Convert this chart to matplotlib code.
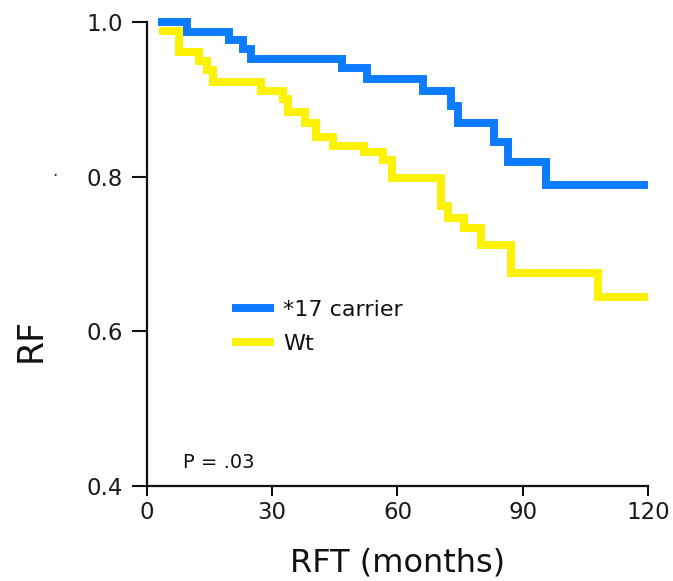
import matplotlib
matplotlib.use("Agg")
import matplotlib.pyplot as plt

# ---- data ----
blue_label = "*17 carrier"
blue_months = [2.6, 9.7, 19.7, 22.9, 24.9, 46.7, 52.8, 66.0, 72.8, 74.4, 83.2, 86.4, 95.6, 120.0]
blue_surv = [1.000, 0.987, 0.977, 0.965, 0.952, 0.941, 0.926, 0.911, 0.892, 0.870, 0.845, 0.819, 0.789, 0.789]

yellow_label = "Wt"
yellow_months = [2.9, 7.7, 12.5, 14.3, 15.8, 27.3, 32.5, 33.8, 37.8, 40.5, 44.5, 52.0, 56.5, 58.7,
                 70.4, 72.0, 76.0, 80.0, 87.2, 108.0, 120.0]
yellow_surv = [0.988, 0.961, 0.949, 0.938, 0.923, 0.911, 0.900, 0.883, 0.870, 0.851, 0.840, 0.832,
               0.822, 0.798, 0.762, 0.747, 0.734, 0.712, 0.676, 0.644, 0.644]

x_ticks = [0, 30, 60, 90, 120]
x_ticklabels = ["0", "30", "60", "90", "120"]
y_ticks = [0.4, 0.6, 0.8, 1.0]
y_ticklabels = ["0.4", "0.6", "0.8", "1.0"]
x_label = "RFT (months)"
y_label = "RF"
p_text = "P = .03"

BLUE = "#0b7bff"
YELLOW = "#fff200"

plt.rcParams["font.family"] = ["DejaVu Sans"]

fig = plt.figure(figsize=(6.73, 5.81), dpi=100)
ax = fig.add_axes([0.2184, 0.1635, 0.7444, 0.7986])

ly, = ax.plot(yellow_months, yellow_surv, drawstyle="steps-post", color=YELLOW, lw=5.7,
              solid_joinstyle="miter", solid_capstyle="butt", clip_on=False, label=yellow_label, zorder=2)
lb, = ax.plot(blue_months, blue_surv, drawstyle="steps-post", color=BLUE, lw=5.7,
              solid_joinstyle="miter", solid_capstyle="butt", clip_on=False, label=blue_label, zorder=3)

ax.set_xlim(0, 120)
ax.set_ylim(0.4, 1.0)
ax.set_xticks(x_ticks)
ax.set_xticklabels(x_ticklabels)
ax.set_yticks(y_ticks)
ax.set_yticklabels(y_ticklabels)

for s in ["top", "right"]:
    ax.spines[s].set_visible(False)
for s in ["left", "bottom"]:
    ax.spines[s].set_linewidth(1.6)
    ax.spines[s].set_color("#111111")

ax.tick_params(axis="x", direction="out", length=7.5, width=1.5, pad=3.5,
               labelsize=16.5, labelcolor="#1a1a1a", color="#111111")
ax.tick_params(axis="y", direction="out", length=10.5, width=1.5, pad=6.5,
               labelsize=16.5, labelcolor="#1a1a1a", color="#111111")

ax.set_xlabel(x_label, fontsize=23, color="#111111", labelpad=17)
ax.set_ylabel(y_label, fontsize=25, color="#111111")
ax.yaxis.set_label_coords(-0.198, 0.315)

leg = ax.legend(handles=[lb, ly], loc="upper left", bbox_to_anchor=(0.17, 0.401),
                frameon=False, borderpad=0, borderaxespad=0, handlelength=1.9,
                handletextpad=0.4, labelspacing=0.62, fontsize=16)
for t in leg.get_texts():
    t.set_color("#111111")

ax.text(8.6, 0.43, p_text, fontsize=14, color="#111111", va="center", ha="left")

fig.text(55 / 673, 1 - 176 / 581, "\u00b7", fontsize=12, color="#333333", ha="center", va="center")

fig.savefig("out.png", dpi=100)
